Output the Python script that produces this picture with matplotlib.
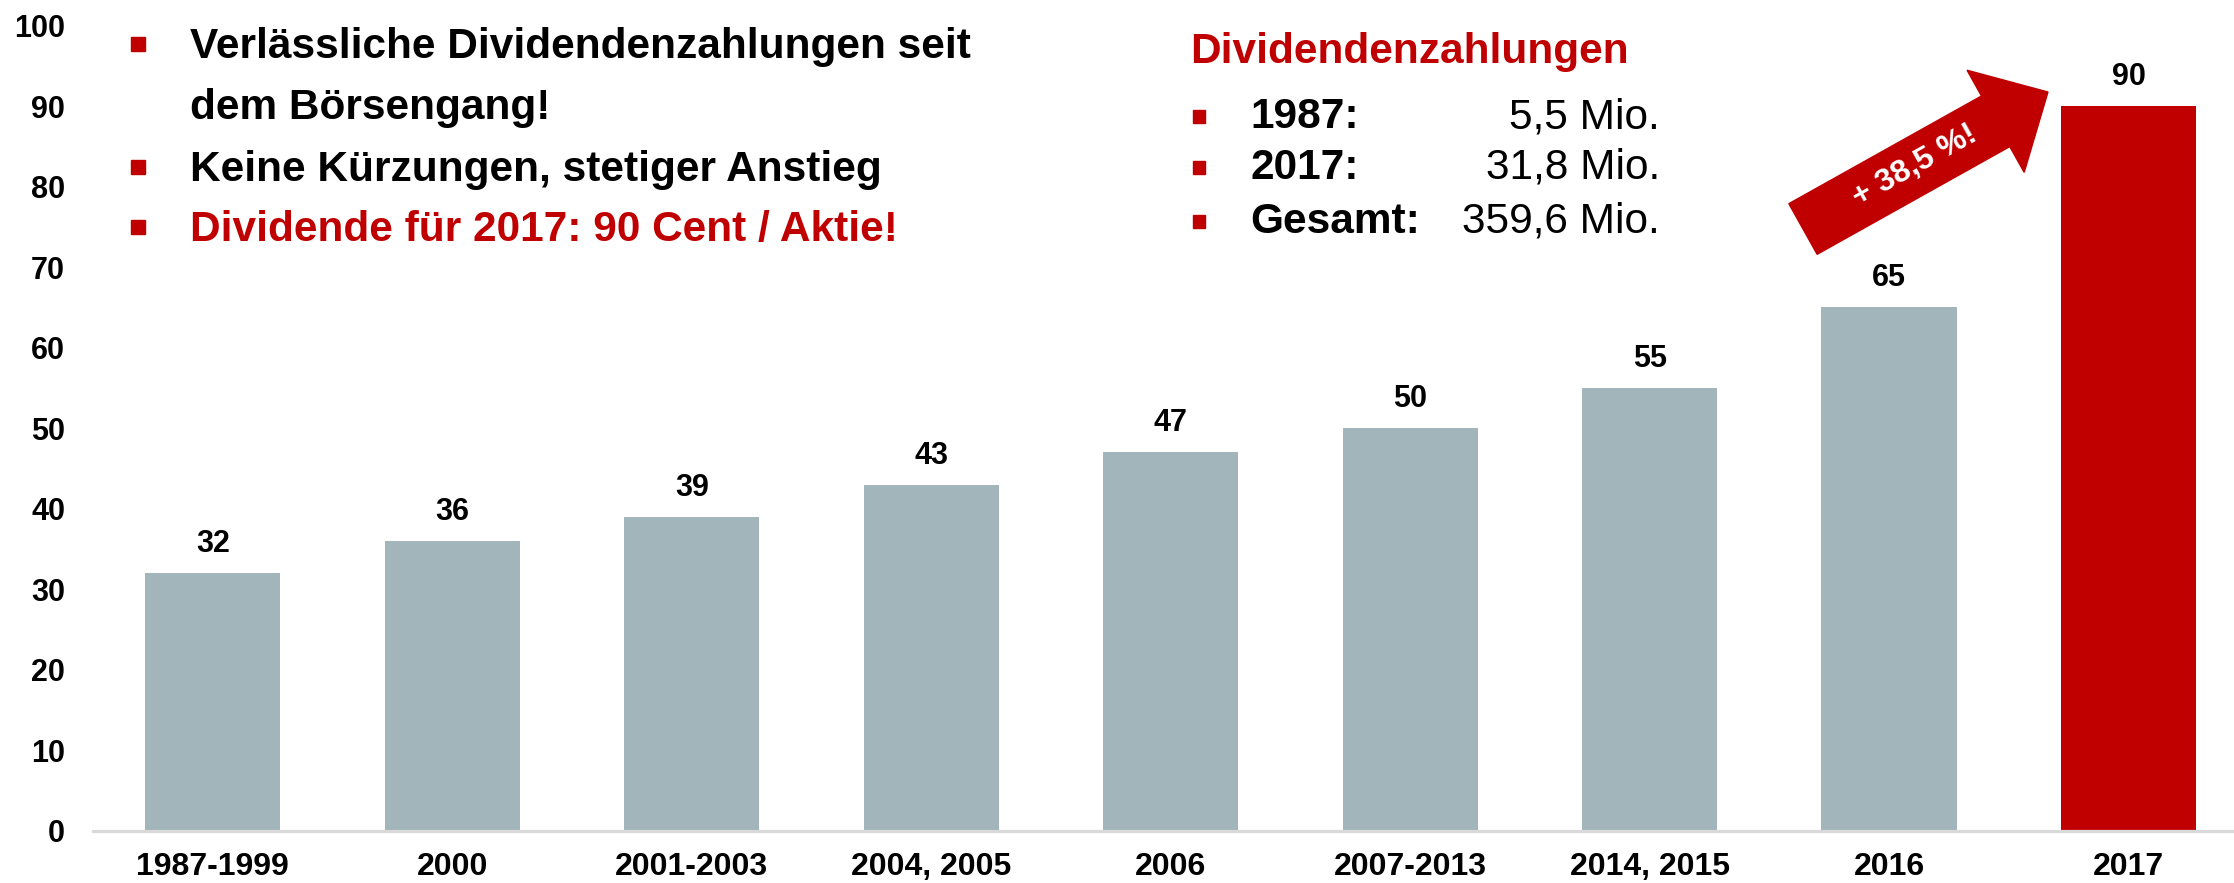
import numpy as np
import matplotlib
matplotlib.use('Agg')
import matplotlib.pyplot as plt
from matplotlib.patches import Polygon, Rectangle

# ---------------- data ----------------
categories = ['1987-1999', '2000', '2001-2003', '2004, 2005', '2006',
              '2007-2013', '2014, 2015', '2016', '2017']
dividends = [32, 36, 39, 43, 47, 50, 55, 65, 90]
yticks = [0, 10, 20, 30, 40, 50, 60, 70, 80, 90, 100]
bullet_lines = [
    ('Verlässliche Dividendenzahlungen seit', 'black', True),
    ('dem Börsengang!', 'black', False),
    ('Keine Kürzungen, stetiger Anstieg', 'black', True),
    ('Dividende für 2017: 90 Cent / Aktie!', '#C00000', True),
]
summary_title = 'Dividendenzahlungen'
summary_labels = ['1987:', '2017:', 'Gesamt:']
summary_values = ['5,5 Mio.', '31,8 Mio.', '359,6 Mio.']
growth_label = '+ 38,5 %!'

# ---------------- style ----------------
plt.rcParams['font.family'] = ['Liberation Sans', 'DejaVu Sans']
GREY = '#A1B5BA'
RED = '#C00000'
TXT = 30.5

W, H = 2234, 883
fig = plt.figure(figsize=(W / 100, H / 100), dpi=100)


def fx(px):
    return px / W


def fy(py):
    return 1 - py / H


ax = fig.add_axes([fx(93), fy(831), 1 - fx(93), (831 - 25.6) / H])
x = np.arange(len(categories))
colors = [GREY] * (len(categories) - 1) + [RED]
ax.bar(x, dividends, width=0.565, color=colors, zorder=2)
ax.set_xlim(-0.5, 8.44)
ax.set_ylim(0, 100)
ax.set_yticks(yticks)
ax.set_xticks(x)
ax.set_xticklabels(categories, fontsize=23, fontweight='bold')
ax.set_yticklabels([str(v) for v in yticks], fontsize=22, fontweight='bold')
ax.tick_params(axis='x', length=0, pad=15)
ax.tick_params(axis='y', length=0, pad=20)
for s in ['top', 'right', 'left']:
    ax.spines[s].set_visible(False)
ax.spines['bottom'].set_color('#D9D9D9')
ax.spines['bottom'].set_linewidth(2.3)
ax.spines['bottom'].set_zorder(3)

for xi, v in zip(x, dividends):
    ax.annotate(str(v), (xi, v), xytext=(0, 21), textcoords='offset points',
                ha='center', va='center', fontsize=22, fontweight='bold')

# ---------------- left bullet text ----------------
line_y = [47, 108, 170, 230]
for (txt, col, has_bullet), py in zip(bullet_lines, line_y):
    fig.text(fx(190), fy(py), txt, color=col, fontsize=TXT, fontweight='bold',
             ha='left', va='center')
    if has_bullet:
        fig.patches.append(Rectangle((fx(131), fy(py + 4)), 14 / W, 14 / H,
                                     transform=fig.transFigure, color=RED))

# ---------------- summary box ----------------
fig.text(fx(1190), fy(52), summary_title, color=RED, fontsize=TXT,
         fontweight='bold', ha='left', va='center')
sum_y = [117, 168, 222]
for lab, val, py in zip(summary_labels, summary_values, sum_y):
    fig.text(fx(1250), fy(py), lab, fontsize=TXT, fontweight='bold',
             ha='left', va='center')
    fig.text(fx(1660), fy(py), val, fontsize=TXT, ha='right', va='center')
    fig.patches.append(Rectangle((fx(1193), fy(py + 6)), 12 / W, 13 / H,
                                 transform=fig.transFigure, color=RED))

# ---------------- growth arrow ----------------
tail = np.array([1803.0, 229.0])
tip = np.array([2048.0, 92.0])
d = tip - tail
L = np.hypot(*d)
u = d / L
n = np.array([-u[1], u[0]])
shaft_w, head_w, head_l = 58, 117, 60
base = tip - u * head_l
pts_px = [tail + n * shaft_w / 2, base + n * shaft_w / 2, base + n * head_w / 2,
          tip, base - n * head_w / 2, base - n * shaft_w / 2, tail - n * shaft_w / 2]
pts = [(fx(p[0]), fy(p[1])) for p in pts_px]
fig.patches.append(Polygon(pts, closed=True, transform=fig.transFigure,
                           color=RED, zorder=5))
ang = np.degrees(np.arctan2(-d[1], d[0]))
fig.text(fx(1915), fy(166), growth_label, color='white', fontsize=23,
         fontweight='bold', rotation=ang, rotation_mode='anchor',
         ha='center', va='center', zorder=6)

fig.savefig('out.png', dpi=100)
